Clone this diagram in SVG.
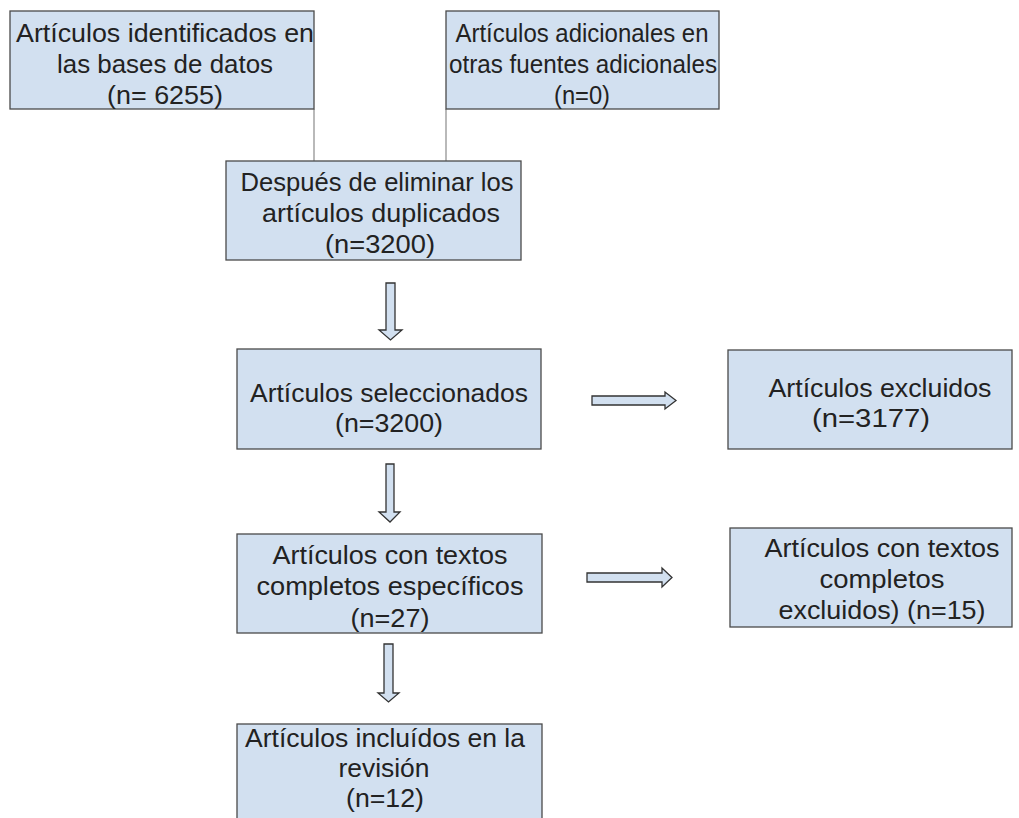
<svg xmlns="http://www.w3.org/2000/svg" width="1019" height="818" viewBox="0 0 1019 818">
<style>
.box{fill:#d2e0f0;stroke:#4a4a4a;stroke-width:1.3}
.t{font-family:"Liberation Sans","Noto Sans",sans-serif;font-size:26px;fill:#222;text-anchor:middle}
.ln{stroke:#8a8a8a;stroke-width:1.2;fill:none}
.ar{fill:#d2e0f0;stroke:#333;stroke-width:1.3;stroke-linejoin:miter}
</style>
<rect width="1019" height="818" fill="#fff"/>
<g id="connectors">
<line class="ln" x1="314" y1="109" x2="314" y2="161"/>
<line class="ln" x1="446" y1="109" x2="446" y2="161"/>
<path class="ar" d="M386,283 H395 V330 H402 L390.5,340 L379,330 H386 Z"/>
<path class="ar" d="M386,464 H394 V512 H400 L390,522 L379,512 H386 Z"/>
<path class="ar" d="M384,644 H393 V693 H399 L388.5,702 L378,693 H384 Z"/>
<path class="ar" d="M592,396 H665 V392 L676,400.5 L665,409 V405 H592 Z"/>
<path class="ar" d="M587,573 H662 V568 L672,577.5 L662,587 V582 H587 Z"/>
</g>
<g id="n1">
<rect class="box" x="10" y="11" width="304" height="98"/>
<text class="t" x="165" y="42" textLength="298" lengthAdjust="spacingAndGlyphs">Artículos identificados en</text>
<text class="t" x="165" y="73" textLength="216" lengthAdjust="spacingAndGlyphs">las bases de datos</text>
<text class="t" x="165" y="104" textLength="116" lengthAdjust="spacingAndGlyphs">(n= 6255)</text>
</g>
<g id="n2">
<rect class="box" x="446" y="11" width="273" height="98"/>
<text class="t" x="582" y="42" textLength="253" lengthAdjust="spacingAndGlyphs">Artículos adicionales en</text>
<text class="t" x="583" y="73" textLength="268" lengthAdjust="spacingAndGlyphs">otras fuentes adicionales</text>
<text class="t" x="582" y="104" textLength="56" lengthAdjust="spacingAndGlyphs">(n=0)</text>
</g>
<g id="n3">
<rect class="box" x="226" y="161" width="295" height="99"/>
<text class="t" x="377" y="191" textLength="273" lengthAdjust="spacingAndGlyphs">Después de eliminar los</text>
<text class="t" x="381" y="222" textLength="238" lengthAdjust="spacingAndGlyphs">artículos duplicados</text>
<text class="t" x="380" y="253" textLength="110" lengthAdjust="spacingAndGlyphs">(n=3200)</text>
</g>
<g id="n4">
<rect class="box" x="237" y="349" width="304" height="100"/>
<text class="t" x="389" y="402" textLength="278" lengthAdjust="spacingAndGlyphs">Artículos seleccionados</text>
<text class="t" x="389" y="432" textLength="108" lengthAdjust="spacingAndGlyphs">(n=3200)</text>
</g>
<g id="n5">
<rect class="box" x="728" y="350" width="284" height="99"/>
<text class="t" x="880" y="397" textLength="223" lengthAdjust="spacingAndGlyphs">Artículos excluidos</text>
<text class="t" x="871" y="427" textLength="118" lengthAdjust="spacingAndGlyphs">(n=3177)</text>
</g>
<g id="n6">
<rect class="box" x="237" y="534" width="305" height="99"/>
<text class="t" x="390" y="564" textLength="235" lengthAdjust="spacingAndGlyphs">Artículos con textos</text>
<text class="t" x="390" y="595" textLength="267" lengthAdjust="spacingAndGlyphs">completos específicos</text>
<text class="t" x="390" y="627" textLength="79" lengthAdjust="spacingAndGlyphs">(n=27)</text>
</g>
<g id="n7">
<rect class="box" x="730" y="528" width="282" height="99"/>
<text class="t" x="882" y="557" textLength="235" lengthAdjust="spacingAndGlyphs">Artículos con textos</text>
<text class="t" x="882" y="588" textLength="125" lengthAdjust="spacingAndGlyphs">completos</text>
<text class="t" x="882" y="619" textLength="207" lengthAdjust="spacingAndGlyphs">excluidos) (n=15)</text>
</g>
<g id="n8">
<rect class="box" x="237" y="724" width="305" height="110"/>
<text class="t" x="385" y="747" textLength="280" lengthAdjust="spacingAndGlyphs">Artículos incluídos en la</text>
<text class="t" x="384" y="777" textLength="91" lengthAdjust="spacingAndGlyphs">revisión</text>
<text class="t" x="385" y="807" textLength="78" lengthAdjust="spacingAndGlyphs">(n=12)</text>
</g>
</svg>
